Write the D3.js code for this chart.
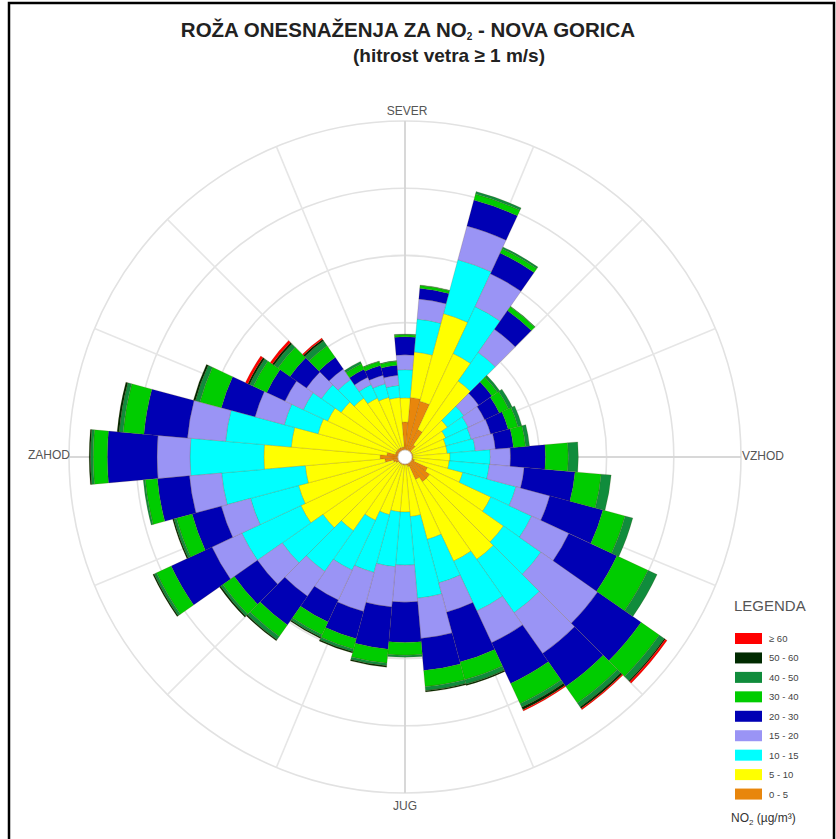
<!DOCTYPE html>
<html>
<head>
<meta charset="utf-8">
<script src="https://cdn.jsdelivr.net/npm/d3@7"></script>
<style>
  body { margin: 0; background: #fff; }
  svg { display: block; font-family: Arial, "Liberation Sans", sans-serif; }
</style>
</head>
<body>
<div id="rose"></div>
<script>
// wind directions (deg, clockwise from north)
const directions = [0, 10, 20, 30, 40, 50, 60, 70, 80, 90, 100, 110, 120, 130, 140, 150, 160, 170,
                    180, 190, 200, 210, 220, 230, 240, 250, 260, 270, 280, 290, 300, 310, 320, 330, 340, 350];

// frequency (%) of each NO2 class per direction
const no2_0_5   = [0.52,0.89,0.86,0.45,0.22,0.12,0.12,0.12,0.12,0.12,0.12,0.15,0.37,0.45,0.45,0.37,0.15,0.12,
                   0.12,0.12,0.12,0.12,0.12,0.12,0.15,0.18,0.30,0.37,0.27,0.15,0.15,0.15,0.15,0.15,0.15,0.15];
const no2_5_10  = [0.36,0.68,1.35,1.25,1.16,0.65,0.55,0.51,0.51,0.55,0.54,0.74,1.04,1.34,1.41,1.34,1.12,0.77,
                   0.70,0.70,0.77,0.92,1.22,1.37,1.56,1.46,1.19,1.73,1.43,1.19,1.12,1.01,0.92,0.82,0.77,0.74];
const no2_10_15 = [0.42,0.49,0.83,0.77,0.52,0.30,0.37,0.39,0.42,0.60,0.60,0.82,0.67,0.68,0.97,0.82,0.67,1.22,
                   0.79,0.82,0.89,0.82,0.74,0.74,0.97,0.74,1.25,1.10,0.98,0.52,0.40,0.36,0.34,0.22,0.21,0.18];
const no2_15_20 = [0.22,0.30,0.52,0.54,0.42,0.27,0.27,0.30,0.30,0.30,0.52,0.52,0.61,1.03,0.74,0.52,0.45,0.60,
                   0.55,0.60,0.60,0.49,0.45,0.45,0.49,0.45,0.48,0.49,0.57,0.45,0.30,0.27,0.19,0.12,0.13,0.15];
const no2_20_30 = [0.27,0.16,0.40,0.34,0.34,0.24,0.24,0.27,0.27,0.52,0.76,0.82,0.79,0.79,0.60,0.67,0.77,0.48,
                   0.60,0.63,0.42,0.36,0.52,0.42,0.67,0.45,0.48,0.74,0.65,0.52,0.30,0.30,0.21,0.13,0.15,0.15];
const no2_30_40 = [0.03,0.04,0.09,0.07,0.07,0.10,0.15,0.15,0.18,0.34,0.39,0.34,0.51,0.33,0.30,0.33,0.27,0.24,
                   0.19,0.21,0.16,0.21,0.21,0.21,0.24,0.24,0.18,0.21,0.31,0.33,0.22,0.22,0.21,0.09,0.06,0.06];
const no2_40_50 = [0.01,0.01,0.04,0.03,0.01,0.04,0.06,0.06,0.06,0.15,0.15,0.12,0.15,0.09,0.07,0.06,0.07,0.06,
                   0.03,0.04,0.04,0.04,0.06,0.04,0.04,0.04,0.03,0.04,0.06,0.07,0.06,0.07,0.09,0.04,0.01,0.01];
const no2_50_60 = [0,0,0,0,0,0,0,0,0,0,0,0,0,0.02,0.03,0.04,0.02,0.02,
                   0,0.02,0.02,0.02,0.02,0.02,0.02,0.02,0,0.02,0.03,0.03,0.03,0.03,0.03,0,0,0];
const no2_60    = [0,0,0,0,0,0,0,0,0,0,0,0,0,0.03,0.02,0.02,0,0,
                   0,0,0,0,0,0,0,0,0,0,0,0,0.04,0.04,0.02,0,0,0];

const classLabels = ['0 - 5', '5 - 10', '10 - 15', '15 - 20', '20 - 30', '30 - 40', '40 - 50', '50 - 60', '\u2265 60'];
const classColors = ['#e8860c', '#ffff00', '#00ffff', '#9a94f5', '#0000b4', '#00cc00', '#108c3c', '#002a00', '#ff0000'];
const ringTicks = [1, 2, 3, 4, 5];
const compass = [{name: 'SEVER', deg: 0}, {name: 'VZHOD', deg: 90}, {name: 'JUG', deg: 180}, {name: 'ZAHOD', deg: 270}];

const series = [no2_0_5, no2_5_10, no2_10_15, no2_15_20, no2_20_30, no2_30_40, no2_40_50, no2_50_60, no2_60];
const rows = directions.map((dir, i) => {
    const row = {dir: dir};
    classLabels.forEach((k, j) => row[k] = series[j][i]);
    return row;
});

const width = 836;
const height = 839;
const cx = 405, cy = 457;

const svg = d3.select('#rose')
    .append('svg')
        .attr('width', width)
        .attr('height', height);

svg.append('rect')
    .attr('width', width).attr('height', height)
    .attr('fill', '#fff');

const r = d3.scaleLinear()
    .domain([0, 5])
    .range([0, 336]);

const angle = d3.scaleLinear()
    .domain([0, 360])
    .range([0, 2 * Math.PI]);

const g = svg.append('g')
    .attr('transform', `translate(${cx},${cy})`);

// grid rings
g.append('g')
    .selectAll('circle')
    .data(ringTicks)
    .join('circle')
        .attr('r', d => r(d))
        .attr('fill', 'none')
        .attr('stroke', '#e2e2e2')
        .attr('stroke-width', 1.6);

// spokes every 22.5 deg
const spokes = d3.range(0, 360, 22.5);
g.append('g')
    .selectAll('line')
    .data(spokes)
    .join('line')
        .attr('x1', d => r(ringTicks[0]) * Math.sin(angle(d)))
        .attr('y1', d => -r(ringTicks[0]) * Math.cos(angle(d)))
        .attr('x2', d => r(5) * Math.sin(angle(d)))
        .attr('y2', d => -r(5) * Math.cos(angle(d)))
        .attr('stroke', d => d % 90 === 0 ? '#d6d6d6' : '#e6e6e6')
        .attr('stroke-width', 1.6);

g.append('g')
    .selectAll('line')
    .data([0, 90])
    .join('line')
        .attr('x1', d => -r(5) * Math.sin(angle(d)))
        .attr('y1', d => r(5) * Math.cos(angle(d)))
        .attr('x2', d => r(5) * Math.sin(angle(d)))
        .attr('y2', d => -r(5) * Math.cos(angle(d)))
        .attr('stroke', '#d6d6d6')
        .attr('stroke-width', 1.4);

// stacked bars
const stacked = d3.stack().keys(classLabels)(rows);
const half = angle(5);
const arc = d3.arc()
    .innerRadius(d => r(d[0]))
    .outerRadius(d => r(d[1]))
    .startAngle(d => angle(d.data.dir) - half)
    .endAngle(d => angle(d.data.dir) + half);

g.append('g')
    .selectAll('g')
    .data(stacked)
    .join('g')
        .attr('fill', (d, i) => classColors[i])
    .selectAll('path')
    .data(d => d.filter(s => s[1] > s[0]))
    .join('path')
        .attr('d', arc)
        .attr('stroke', 'rgba(90,60,0,0.35)')
        .attr('stroke-width', 0.5);

g.append('circle')
    .attr('r', 7)
    .attr('fill', '#fff')
    .attr('stroke', '#ccc')
    .attr('stroke-width', 0.8);

// compass labels
const labelPos = {
    SEVER: [2, -342, 'middle'],
    VZHOD: [337, 3, 'start'],
    JUG: [0, 353, 'middle'],
    ZAHOD: [-335, 2, 'end']
};
g.append('g')
    .selectAll('text')
    .data(compass)
    .join('text')
        .attr('x', d => labelPos[d.name][0])
        .attr('y', d => labelPos[d.name][1])
        .attr('text-anchor', d => labelPos[d.name][2])
        .attr('font-size', 12)
        .attr('fill', '#555')
        .text(d => d.name);

// title
const title = svg.append('text')
    .attr('x', 408).attr('y', 37)
    .attr('text-anchor', 'middle')
    .attr('font-size', 20.5)
    .attr('font-weight', 'bold')
    .attr('fill', '#222');
title.append('tspan').text('RO\u017DA ONESNA\u017DENJA ZA NO');
title.append('tspan').attr('dy', 3).attr('font-size', 10).text('2');
title.append('tspan').attr('dy', -3).text(' - NOVA GORICA');

svg.append('text')
    .attr('x', 449).attr('y', 62)
    .attr('text-anchor', 'middle')
    .attr('font-size', 19)
    .attr('font-weight', 'bold')
    .attr('fill', '#222')
    .text('(hitrost vetra \u2265 1 m/s)');

// legend
const legend = svg.append('g').attr('transform', 'translate(734,611)');
legend.append('text')
    .attr('x', 0).attr('y', 0)
    .attr('font-size', 15)
    .attr('fill', '#555')
    .text('LEGENDA');

const legendRows = classLabels.map((k, i) => ({label: k, color: classColors[i]})).reverse();
const ly = d3.scaleBand()
    .domain(legendRows.map(d => d.label))
    .range([20, 195]);

legend.selectAll('rect')
    .data(legendRows)
    .join('rect')
        .attr('x', 1)
        .attr('y', d => ly(d.label) + 2)
        .attr('width', 27)
        .attr('height', 11)
        .attr('fill', d => d.color);

legend.selectAll('text.lab')
    .data(legendRows)
    .join('text')
        .attr('class', 'lab')
        .attr('x', 35)
        .attr('y', d => ly(d.label) + 11)
        .attr('font-size', 9.5)
        .attr('fill', '#444')
        .text(d => d.label);

const unit = legend.append('text')
    .attr('x', -3).attr('y', 211)
    .attr('font-size', 12)
    .attr('fill', '#333');
unit.append('tspan').text('NO');
unit.append('tspan').attr('dy', 3).attr('font-size', 8).text('2');
unit.append('tspan').attr('dy', -3).text(' (\u00B5g/m\u00B3)');

// frame
svg.append('rect')
    .attr('x', 9).attr('y', 3)
    .attr('width', 825).attr('height', 850)
    .attr('fill', 'none')
    .attr('stroke', '#000')
    .attr('stroke-width', 2.5);
</script>
</body>
</html>
